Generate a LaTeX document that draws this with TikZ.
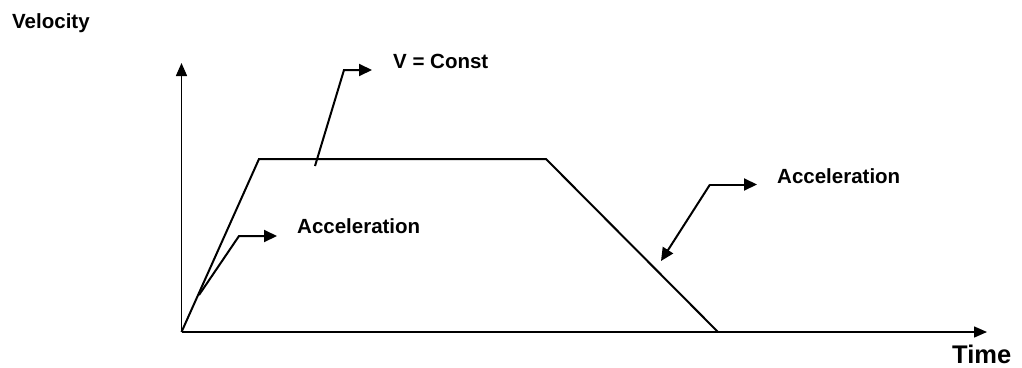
\documentclass[tikz,border=0pt]{standalone}
\usepackage{fontspec}
\setmainfont{Liberation Sans}
\usetikzlibrary{arrows.meta}
\tikzset{
  axis/.style={line width=1.5pt,-{Triangle[length=13pt,width=11pt]}},
  profile/.style={line width=2pt,line join=miter},
  leader/.style={line width=2pt,-{Triangle[length=13pt,width=12pt]}},
  lbl/.style={inner sep=0pt,anchor=base west,font=\bfseries\fontsize{20.5}{23}\selectfont},
  biglbl/.style={inner sep=0pt,anchor=base west,font=\bfseries\fontsize{25.5}{28}\selectfont},
}
\begin{document}
\begin{tikzpicture}[x=1pt,y=-1pt]
\useasboundingbox (0,0) rectangle (1022,367);
% labels
\node[lbl] (vel) at (12,28) {Velocity};
\node[lbl] (vconst) at (393,68) {V = Const};
\node[lbl] (acc1) at (297,233) {Acceleration};
\node[lbl] (acc2) at (777,183) {Acceleration};
\node[biglbl] (time) at (952,363.5) {Time};
% axes
\coordinate (O) at (181.5,332);
\coordinate (ytip) at (181.5,63);
\coordinate (xtip) at (987,332);
\draw[axis] (O) -- (ytip);
\draw[axis] (O) -- (xtip);
% velocity profile
\coordinate (p1) at (259,159);
\coordinate (p2) at (546,159);
\coordinate (p3) at (718,332);
\draw[profile] (O) -- (p1) -- (p2) -- (p3);
% leaders
\coordinate (l1s) at (315,166);
\coordinate (l1c) at (344,70);
\coordinate (l1e) at (372,70);
\draw[leader] (l1s) -- (l1c) -- (l1e);
\coordinate (l2s) at (199,295);
\coordinate (l2c) at (239,236);
\coordinate (l2e) at (277,236);
\draw[leader] (l2s) -- (l2c) -- (l2e);
\coordinate (l3c) at (710,184.5);
\coordinate (l3e) at (757,184.5);
\coordinate (l3t) at (661,261);
\draw[leader] (l3c) -- (l3e);
\draw[leader] (l3c) -- (l3t);
\end{tikzpicture}
\end{document}
